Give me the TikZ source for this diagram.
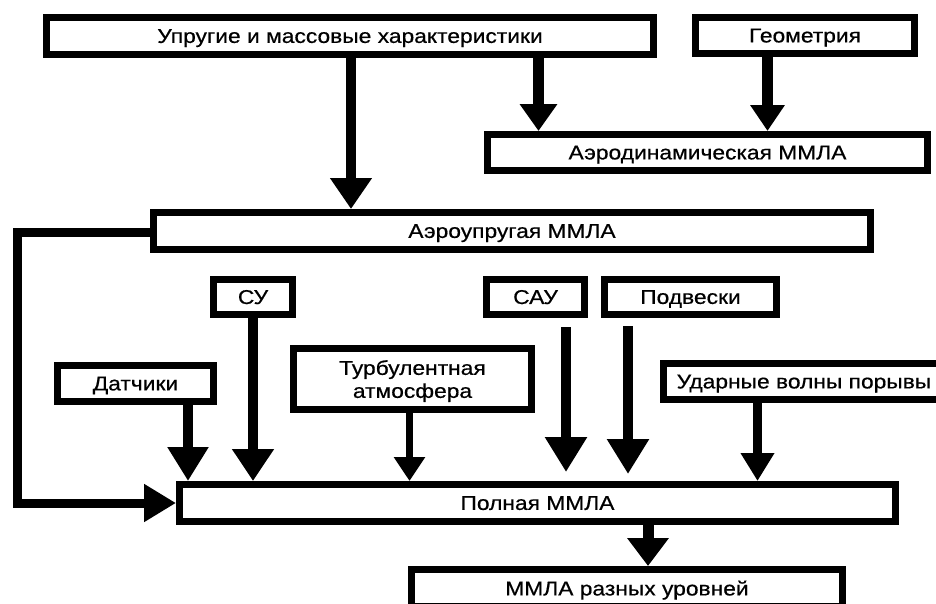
\documentclass[tikz,border=0pt]{standalone}
\usepackage{fontspec}
\setmainfont[FakeStretch=1.14,FakeBold=0.6]{Liberation Sans}
\usetikzlibrary{arrows.meta}
\begin{document}
\begin{tikzpicture}[x=1pt,y=-1pt,
  box/.style={draw=black,line width=7pt,fill=white,inner sep=0pt,
    font=\fontsize{20}{23}\selectfont,align=center,text depth=0pt},
  arr/.style={draw=black,line width=#1},
  arr/.default=10pt]
\useasboundingbox (0,0) rectangle (936,603);
\clip (0,0) rectangle (936,603);
\fill[white] (0,0) rectangle (936,603);
% nodes
\node[box,minimum width=607pt,minimum height=37pt] (upr) at (350,36) {Упругие и массовые характеристики};
\node[box,minimum width=219pt,minimum height=36pt] (geo) at (805,35.5) {Геометрия};
\node[box,minimum width=440pt,minimum height=36pt] (aero) at (707.5,152.5) {Аэродинамическая ММЛА};
\node[box,minimum width=717pt,minimum height=37pt] (aeup) at (512,231) {Аэроупругая ММЛА};
\node[box,minimum width=79pt,minimum height=35pt] (su) at (253,297) {СУ};
\node[box,minimum width=156pt,minimum height=36pt] (dat) at (135.5,383.5) {Датчики};
\node[box,minimum width=238pt,minimum height=61pt] (turb) at (412.5,379) {Турбулентная\\атмосфера};
\node[box,minimum width=98pt,minimum height=35pt] (sau) at (535.5,297) {САУ};
\node[box,minimum width=172pt,minimum height=35pt] (podv) at (690.5,297) {Подвески};
\node[box,minimum width=281pt,minimum height=36pt] (udar) at (804,381.5) {Ударные волны порывы};
\node[box,minimum width=716pt,minimum height=37pt] (poln) at (537.5,503) {Полная ММЛА};
\node[box,minimum width=431pt,minimum height=37pt] (mmla) at (627,588) {ММЛА разных уровней};
% x positions of connectors
\coordinate (x1) at (351,0);
\coordinate (x2) at (538.5,0);
\coordinate (x3) at (767.5,0);
\coordinate (x5) at (188,0);
\coordinate (x6) at (253,0);
\coordinate (x7) at (409.5,0);
\coordinate (x8) at (566,0);
\coordinate (x9) at (628,0);
\coordinate (x10) at (757.5,0);
\coordinate (x11) at (648,0);
\coordinate (fbx) at (17.5,0);
\coordinate (fby) at (0,503);
\coordinate (fbt) at (0,232);
% connectors
\draw[arr=10pt,-{Triangle[width=40pt,length=31pt]}] (upr.south -| x1) -- (aeup.north -| x1);
\draw[arr=11pt,-{Triangle[width=36pt,length=27pt]}] (upr.south -| x2) -- (aero.north -| x2);
\draw[arr=11pt,-{Triangle[width=33pt,length=26pt]}] (geo.south -| x3) -- (aero.north -| x3);
\draw[arr=9pt,-{Triangle[width=36pt,length=32pt]}] (aeup.west |- fbt) -- (fbx |- fbt) -- (fbx |- fby) -- (poln.west |- fby);
\draw[arr=10pt,-{Triangle[width=39pt,length=34pt]}] (dat.south -| x5) -- (poln.north -| x5);
\draw[arr=10pt,-{Triangle[width=40pt,length=32pt]}] (su.south -| x6) -- (poln.north -| x6);
\draw[arr=7pt,-{Triangle[width=30pt,length=24pt]}] (turb.south -| x7) -- (poln.north -| x7);
\draw[arr=10pt,-{Triangle[width=40pt,length=35pt]},shorten <=9pt,shorten >=9pt] (sau.south -| x8) -- (poln.north -| x8);
\draw[arr=10pt,-{Triangle[width=40pt,length=35pt]},shorten <=8pt,shorten >=7pt] (podv.south -| x9) -- (poln.north -| x9);
\draw[arr=9pt,-{Triangle[width=32pt,length=28pt]}] (udar.south -| x10) -- (poln.north -| x10);
\draw[arr=11pt,-{Triangle[width=40pt,length=28pt]}] (poln.south -| x11) -- (mmla.north -| x11);
\end{tikzpicture}
\end{document}
